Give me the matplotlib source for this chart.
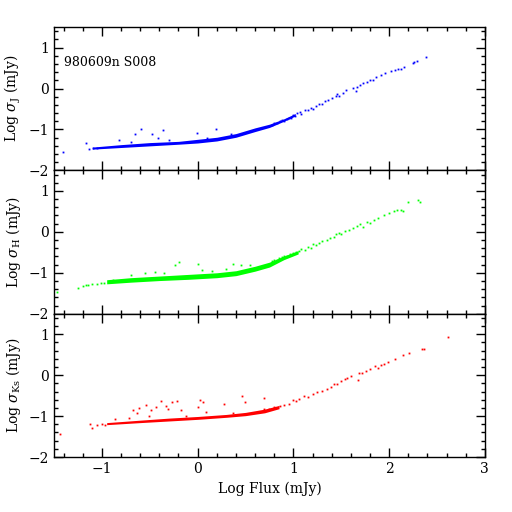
import matplotlib
matplotlib.use('Agg')
import matplotlib.pyplot as plt
import numpy as np
from matplotlib.ticker import MultipleLocator

plt.rcParams['font.family'] = ['DejaVu Serif']
plt.rcParams['mathtext.fontset'] = 'dejavuserif'

# --- J band (blue) ---
j_core_x = [-1.1, -0.8, -0.5, -0.2, 0.0, 0.2, 0.4, 0.6, 0.75, 0.9, 1.02]
j_core_lo = [-1.48, -1.44, -1.40, -1.36, -1.33, -1.28, -1.19, -1.05, -0.95, -0.80, -0.67]
j_core_hi = [-1.43, -1.37, -1.32, -1.29, -1.24, -1.19, -1.10, -0.96, -0.87, -0.74, -0.61]
j_x = [-1.41, -1.17, -1.13, -1.09, -1.05, -0.82, -0.65, -0.59, -0.48, -0.41,
       -0.36, -0.01, 0.19, -0.70, -0.30, 0.10, 0.35,
       0.78, 0.80, 0.83, 0.86, 0.88, 0.90, 0.93, 0.95, 0.97, 1.00, 1.02, 1.04,
       1.07, 1.08, 1.12, 1.15, 1.18, 1.20, 1.24, 1.27, 1.30, 1.33, 1.36, 1.40,
       1.44, 1.46, 1.48, 1.52, 1.55, 1.65, 1.62, 1.66, 1.70, 1.73, 1.77, 1.80,
       1.83, 1.86, 1.92, 1.96, 2.02, 2.06, 2.09, 2.12, 2.16, 2.25, 2.26, 2.29,
       2.38]
j_y = [-1.56, -1.32, -1.47, -1.46, -1.45, -1.25, -1.10, -1.00, -1.12, -1.20,
       -1.02, -1.08, -0.98, -1.30, -1.26, -1.20, -1.12,
       -0.88, -0.83, -0.85, -0.80, -0.77, -0.79, -0.74, -0.71, -0.72, -0.64,
       -0.66, -0.60, -0.58, -0.62, -0.52, -0.52, -0.47, -0.50, -0.43, -0.38,
       -0.37, -0.30, -0.28, -0.24, -0.18, -0.14, -0.18, -0.10, -0.04, -0.05,
       0.02, 0.04, 0.08, 0.13, 0.16, 0.20, 0.22, 0.28, 0.32, 0.38, 0.42, 0.46,
       0.48, 0.48, 0.52, 0.63, 0.66, 0.67, 0.77]

# --- H band (green) ---
h_core_x = [-0.95, -0.7, -0.4, -0.1, 0.2, 0.4, 0.6, 0.75, 0.9, 1.05]
h_core_lo = [-1.27, -1.23, -1.19, -1.16, -1.12, -1.07, -0.96, -0.86, -0.68, -0.54]
h_core_hi = [-1.17, -1.12, -1.08, -1.04, -1.00, -0.95, -0.84, -0.74, -0.59, -0.46]
h_x = [-1.47, -1.25, -1.20, -1.17, -1.14, -1.10, -1.05, -1.01, -0.98, -0.92,
       -0.88, -0.24, -0.19, 0.00, 0.37, -0.55, -0.45, -0.70, 0.05, 0.15, 0.30,
       0.45, 0.55, -0.35,
       0.78, 0.80, 0.83, 0.85, 0.88, 0.90, 0.93, 0.96, 0.98, 1.00, 1.03, 1.06,
       1.08, 1.12, 1.15, 1.18, 1.21, 1.24, 1.27, 1.30, 1.35, 1.38, 1.42, 1.45,
       1.48, 1.50, 1.54, 1.58, 1.62, 1.66, 1.70, 1.73, 1.77, 1.80, 1.84, 1.88,
       1.95, 2.00, 2.05, 2.08, 2.12, 2.15, 2.20, 2.30, 2.32]
h_y = [-1.46, -1.37, -1.33, -1.31, -1.30, -1.27, -1.27, -1.26, -1.25, -1.22,
       -1.18, -0.81, -0.73, -0.78, -0.78, -1.01, -0.99, -1.05, -0.92, -0.96,
       -0.90, -0.80, -0.82, -1.00,
       -0.72, -0.68, -0.70, -0.64, -0.62, -0.60, -0.58, -0.55, -0.56, -0.52,
       -0.50, -0.47, -0.43, -0.44, -0.36, -0.40, -0.30, -0.31, -0.27, -0.22,
       -0.20, -0.14, -0.12, -0.06, -0.02, -0.05, 0.01, 0.05, 0.10, 0.14, 0.18,
       0.12, 0.25, 0.22, 0.30, 0.33, 0.40, 0.46, 0.50, 0.54, 0.54, 0.52, 0.73,
       0.78, 0.74]

# --- Ks band (red) ---
k_core_x = [-0.95, -0.6, -0.3, 0.0, 0.3, 0.5, 0.7, 0.85]
k_core_lo = [-1.21, -1.16, -1.12, -1.08, -1.03, -0.99, -0.92, -0.82]
k_core_hi = [-1.16, -1.10, -1.05, -1.01, -0.96, -0.91, -0.83, -0.74]
k_x = [-1.44, -1.12, -1.10, -1.05, -1.00, -0.97,
       -0.54, -0.38, -0.27, -0.22, 0.02, 0.06, 0.28, 0.46, 0.49, -0.68, -0.61,
       -0.49, -0.43, -0.33, -0.31, -0.17, 0.00, 0.09, -0.86, -0.72, -0.63,
       -0.51, -0.12, 0.37,
       0.69, 0.69, 0.75, 0.80, 0.86, 0.90, 0.95, 1.00, 1.03, 1.06, 1.11, 1.15,
       1.20, 1.25, 1.30, 1.35, 1.39, 1.42, 1.46, 1.50, 1.54, 1.56, 1.60, 1.67,
       1.69, 1.72, 1.76, 1.80, 1.85, 1.88, 1.92, 1.95, 1.99, 2.06, 2.15, 2.21,
       2.34, 2.36, 2.62]
k_y = [-1.43, -1.19, -1.28, -1.22, -1.19, -1.22,
       -0.74, -0.62, -0.66, -0.64, -0.60, -0.65, -0.71, -0.50, -0.65, -0.85,
       -0.80, -0.86, -0.77, -0.75, -0.82, -0.85, -0.77, -0.89, -1.07, -1.05,
       -0.93, -1.01, -0.99, -0.93,
       -0.56, -0.83, -0.82, -0.77, -0.75, -0.72, -0.70, -0.60, -0.64, -0.58,
       -0.52, -0.53, -0.45, -0.40, -0.38, -0.33, -0.29, -0.22, -0.22, -0.15,
       -0.10, -0.07, -0.03, -0.13, 0.04, 0.05, 0.09, 0.14, 0.22, 0.18, 0.25,
       0.26, 0.31, 0.39, 0.50, 0.54, 0.63, 0.65, 0.93]

panels = [
    (j_core_x, j_core_lo, j_core_hi, j_x, j_y, '#0000ff', r'Log $\sigma_{\rm J}$ (mJy)'),
    (h_core_x, h_core_lo, h_core_hi, h_x, h_y, '#00ff00', r'Log $\sigma_{\rm H}$ (mJy)'),
    (k_core_x, k_core_lo, k_core_hi, k_x, k_y, '#ff0000', r'Log $\sigma_{\rm Ks}$ (mJy)'),
]

fig, axes = plt.subplots(3, 1, figsize=(5.12, 5.12), dpi=100, sharex=True)
fig.subplots_adjust(left=0.1055, right=0.947, top=0.947, bottom=0.1074, hspace=0)

for ax, (cx, clo, chi, px, py, col, lab) in zip(axes, panels):
    ax.fill_between(cx, clo, chi, color=col, linewidth=0)
    ax.plot(px, py, 's', color=col, markersize=1.3, markeredgewidth=0)
    ax.set_xlim(-1.5, 3)
    ax.set_ylim(-2, 1.5)
    ax.xaxis.set_major_locator(MultipleLocator(1))
    ax.xaxis.set_minor_locator(MultipleLocator(0.2))
    ax.yaxis.set_major_locator(MultipleLocator(1))
    ax.yaxis.set_minor_locator(MultipleLocator(0.2))
    ax.tick_params(which='both', direction='in', top=True, right=True,
                   width=1, labelsize=10)
    ax.tick_params(which='major', length=6.5)
    ax.tick_params(which='minor', length=3.2)
    ax.set_yticks([-2, -1, 0, 1])
    for s in ax.spines.values():
        s.set_linewidth(1)
    ax.set_ylabel(lab, fontsize=10)

axes[0].text(-1.4, 0.63, '980609n S008', fontsize=9, va='center', ha='left')
axes[2].set_xlabel('Log Flux (mJy)', fontsize=10)

fig.savefig('out.png', dpi=100)
